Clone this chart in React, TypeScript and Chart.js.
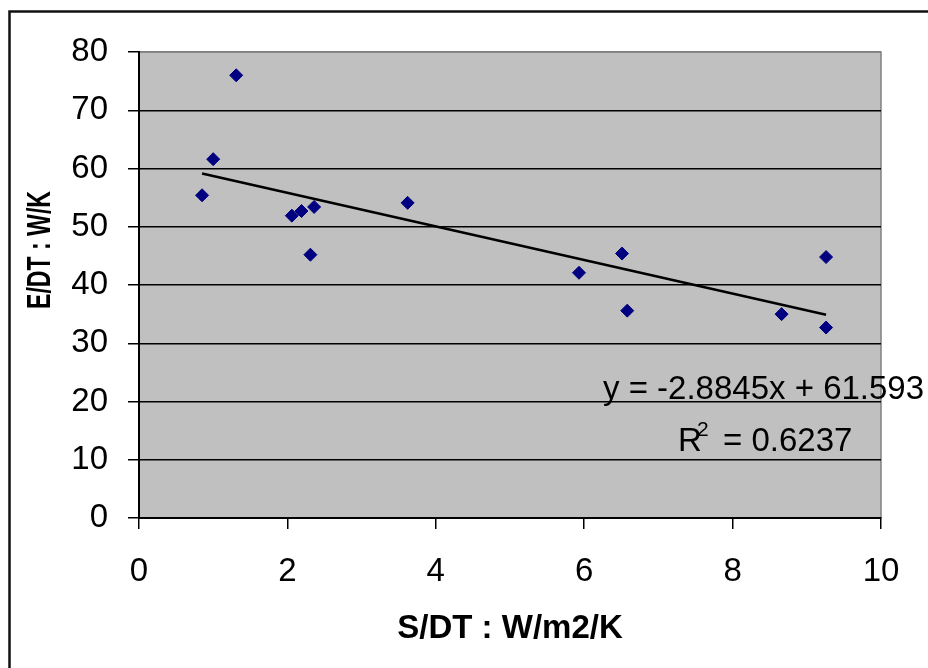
import React, { useEffect, useRef } from 'react';
import { Chart, registerables } from 'chart.js';

Chart.register(...registerables);

// ---- data ----
const sdt = [0.85, 1.0, 1.31, 2.06, 2.19, 2.31, 2.36, 3.62, 5.93, 6.51, 6.58, 8.66, 9.26, 9.26];
const edt = [55.4, 61.6, 76.0, 51.9, 52.7, 45.2, 53.4, 54.1, 42.1, 45.4, 35.6, 35.0, 44.8, 32.7];
const slope = -2.8845;
const intercept = 61.593;
const xTicks = [0, 2, 4, 6, 8, 10];
const yTicks = [0, 10, 20, 30, 40, 50, 60, 70, 80];
const xTitle = 'S/DT : W/m2/K';
const yTitle = 'E/DT : W/K';
const eqText = 'y = -2.8845x + 61.593';
const r2Text = '= 0.6237';

const FONT = "'Liberation Sans', Arial, Helvetica, sans-serif";

const decor = {
  id: 'decor',
  beforeDraw(chart: any) {
    const { ctx, chartArea: a } = chart;
    ctx.save();
    ctx.fillStyle = '#ffffff';
    ctx.fillRect(0, 0, chart.width, chart.height);
    ctx.fillStyle = '#C0C0C0';
    ctx.fillRect(a.left, a.top, a.right - a.left, a.bottom - a.top);
    ctx.strokeStyle = '#808080';
    ctx.lineWidth = 1.5;
    ctx.strokeRect(a.left, a.top, a.right - a.left, a.bottom - a.top);
    ctx.strokeStyle = '#111111';
    ctx.lineWidth = 2.5;
    ctx.strokeRect(9.5, 11.5, 1200, 1200);
    ctx.restore();
  },
  afterDraw(chart: any) {
    const { ctx } = chart;
    ctx.save();
    // rotated y-axis title (narrow, as in the reference)
    ctx.fillStyle = '#000';
    ctx.translate(41, 250);
    ctx.rotate(-Math.PI / 2);
    ctx.scale(0.7, 1);
    ctx.font = `bold 33px ${FONT}`;
    ctx.textAlign = 'center';
    ctx.textBaseline = 'middle';
    ctx.fillText(yTitle, 0, 0);
    ctx.restore();

    ctx.save();
    ctx.fillStyle = '#000';
    ctx.textAlign = 'left';
    ctx.textBaseline = 'alphabetic';
    ctx.font = `33px ${FONT}`;
    ctx.fillText(eqText, 603, 399);
    ctx.fillText('R', 678, 451);
    ctx.fillText(r2Text, 723, 451);
    ctx.font = `21px ${FONT}`;
    ctx.fillText('2', 697, 436);
    ctx.restore();
  },
};

export default function App() {
  const ref = useRef<HTMLCanvasElement>(null);
  useEffect(() => {
    if (!ref.current) return;
    const pts = sdt.map((x, i) => ({ x, y: edt[i] }));
    const xMin = Math.min(...sdt);
    const xMax = Math.max(...sdt);
    const trend = [
      { x: xMin, y: slope * xMin + intercept },
      { x: xMax, y: slope * xMax + intercept },
    ];
    const chart = new Chart(ref.current, {
      type: 'scatter',
      data: {
        datasets: [
          {
            type: 'line',
            data: trend,
            borderColor: '#000',
            borderWidth: 2.5,
            pointRadius: 0,
            fill: false,
          } as any,
          {
            data: pts,
            pointStyle: 'rectRot',
            pointRadius: 6.5,
            backgroundColor: '#000080',
            borderColor: '#000080',
            borderWidth: 1,
          },
        ],
      },
      plugins: [decor],
      options: {
        animation: false,
        responsive: false,
        maintainAspectRatio: false,
        layout: { padding: { left: 0, top: 52, right: 47, bottom: 0 } },
        plugins: { legend: { display: false }, tooltip: { enabled: false } },
        scales: {
          x: {
            type: 'linear',
            min: 0,
            max: 10,
            afterBuildTicks: (s: any) => {
              s.ticks = xTicks.map((v) => ({ value: v }));
            },
            afterFit: (s: any) => {
              s.height = 150;
            },
            ticks: {
              font: { family: FONT, size: 33 },
              color: '#000',
              padding: 23,
              maxRotation: 0,
              autoSkip: false,
            },
            grid: {
              drawOnChartArea: false,
              drawTicks: true,
              tickLength: 11,
              color: '#000',
              lineWidth: 1.5,
            },
            border: { display: true, color: '#000', width: 2 },
            title: {
              display: true,
              text: xTitle,
              color: '#000',
              font: { family: FONT, size: 33, weight: 'bold' },
              padding: { top: 0, bottom: 19 },
            },
          },
          y: {
            type: 'linear',
            min: 0,
            max: 80,
            afterBuildTicks: (s: any) => {
              s.ticks = yTicks.map((v) => ({ value: v }));
            },
            afterFit: (s: any) => {
              s.width = 139;
            },
            ticks: {
              font: { family: FONT, size: 33 },
              color: '#000',
              padding: 20,
              autoSkip: false,
            },
            grid: {
              drawTicks: true,
              tickLength: 11,
              color: (c: any) => (c.tick && c.tick.value === 80 ? '#808080' : '#000'),
              tickColor: '#000',
              lineWidth: 1.5,
            },
            border: { display: true, color: '#000', width: 2 },
            title: { display: false },
          },
        },
      } as any,
    });
    return () => chart.destroy();
  }, []);
  return (
    <div style={{ position: 'fixed', left: 0, top: 0, width: 928, height: 668 }}>
      <canvas ref={ref} width={928} height={668} style={{ display: 'block' }} />
    </div>
  );
}
